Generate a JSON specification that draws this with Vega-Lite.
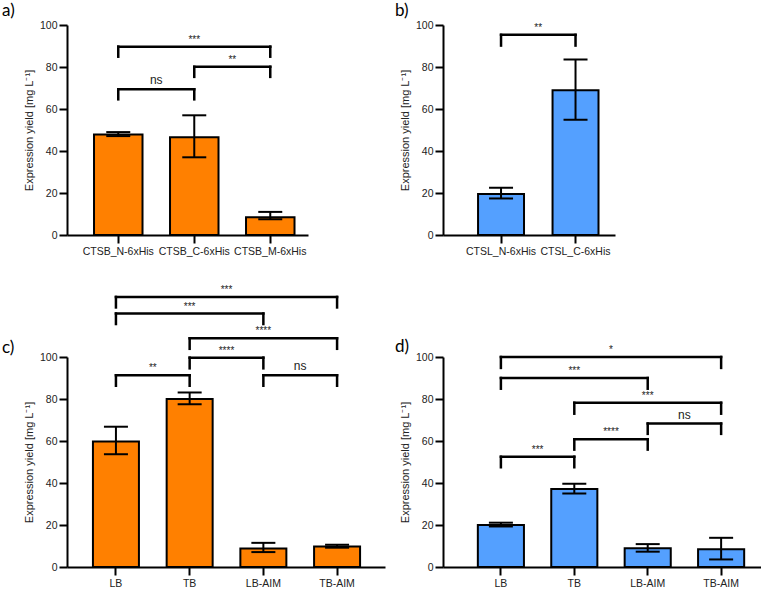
{
  "$schema": "https://vega.github.io/schema/vega-lite/v6.json",
  "autosize": {"type": "pad"},
  "padding": {"left": 2, "top": 2, "right": 0, "bottom": 0},
  "background": "white",
  "columns": 2,
  "spacing": {"row": 122, "column": 48},
  "bounds": "flush",
  "align": "all",
  "datasets": {
    "aBars": [
      {"g": "CTSB_N-6xHis", "v": 47.9, "lo": 47.1, "hi": 49.0},
      {"g": "CTSB_C-6xHis", "v": 46.5, "lo": 37.0, "hi": 57.0},
      {"g": "CTSB_M-6xHis", "v": 8.4, "lo": 7.5, "hi": 11.0}
    ],
    "aBr": [
      {"from": "CTSB_N-6xHis", "to": "CTSB_M-6xHis", "y": 89.7, "low": 84.9, "label": "***", "over": "CTSB_C-6xHis"},
      {"from": "CTSB_C-6xHis", "to": "CTSB_M-6xHis", "y": 80.1, "low": 75.3, "label": "**", "after": "CTSB_C-6xHis"},
      {"from": "CTSB_N-6xHis", "to": "CTSB_C-6xHis", "y": 69.4, "low": 64.6, "label": "ns", "after": "CTSB_N-6xHis"}
    ],
    "bBars": [
      {"g": "CTSL_N-6xHis", "v": 19.5, "lo": 17.4, "hi": 22.5},
      {"g": "CTSL_C-6xHis", "v": 68.9, "lo": 54.9, "hi": 83.6}
    ],
    "bBr": [
      {"from": "CTSL_N-6xHis", "to": "CTSL_C-6xHis", "y": 95.3, "low": 90.2, "label": "**", "after": "CTSL_N-6xHis"}
    ],
    "cBars": [
      {"g": "LB", "v": 59.8, "lo": 53.7, "hi": 66.8},
      {"g": "TB", "v": 80.0, "lo": 77.5, "hi": 83.1},
      {"g": "LB-AIM", "v": 8.8, "lo": 7.1, "hi": 11.5},
      {"g": "TB-AIM", "v": 9.8, "lo": 9.2, "hi": 10.6}
    ],
    "cBr": [
      {"from": "LB", "to": "TB-AIM", "y": 128.6, "low": 123.6, "label": "***", "after": "TB"},
      {"from": "LB", "to": "LB-AIM", "y": 120.7, "low": 115.7, "label": "***", "over": "TB"},
      {"from": "TB", "to": "TB-AIM", "y": 108.9, "low": 103.9, "label": "****", "over": "LB-AIM"},
      {"from": "TB", "to": "LB-AIM", "y": 99.7, "low": 94.6, "label": "****", "after": "TB"},
      {"from": "LB", "to": "TB", "y": 91.3, "low": 86.3, "label": "**", "after": "LB"},
      {"from": "LB-AIM", "to": "TB-AIM", "y": 91.3, "low": 86.3, "label": "ns", "after": "LB-AIM"}
    ],
    "dBars": [
      {"g": "LB", "v": 20.0, "lo": 19.3, "hi": 21.1},
      {"g": "TB", "v": 37.1, "lo": 35.0, "hi": 39.6},
      {"g": "LB-AIM", "v": 8.9, "lo": 7.3, "hi": 10.9},
      {"g": "TB-AIM", "v": 8.4, "lo": 3.6, "hi": 13.9}
    ],
    "dBr": [
      {"from": "LB", "to": "TB-AIM", "y": 100.0, "low": 94.8, "label": "*", "after": "TB"},
      {"from": "LB", "to": "LB-AIM", "y": 90.0, "low": 84.9, "label": "***", "over": "TB"},
      {"from": "TB", "to": "TB-AIM", "y": 78.2, "low": 73.0, "label": "***", "over": "LB-AIM"},
      {"from": "LB-AIM", "to": "TB-AIM", "y": 68.3, "low": 63.4, "label": "ns", "after": "LB-AIM"},
      {"from": "TB", "to": "LB-AIM", "y": 60.8, "low": 55.9, "label": "****", "after": "TB"},
      {"from": "LB", "to": "TB", "y": 52.5, "low": 47.5, "label": "***", "after": "LB"}
    ]
  },
  "concat": [
    {
      "width": 241, "height": 210,
      "title": {"text": "a)", "dx": -65, "offset": 0},
      "layer": [
        {"data": {"name": "aBars"}, "mark": {"type": "bar", "fill": "#FF8000", "stroke": "black", "strokeWidth": 2},
         "encoding": {
           "x": {"field": "g", "type": "nominal", "sort": null, "title": null, "scale": {"domain": ["CTSB_N-6xHis", "CTSB_C-6xHis", "CTSB_M-6xHis"], "paddingInner": 0.362, "paddingOuter": 0.2665, "align": 0.667}, "axis": {"title": null, "labelAngle": 0, "labelOverlap": false}},
           "y": {"field": "v", "type": "quantitative", "title": "Expression yield [mg L⁻¹]", "scale": {"domain": [0, 100], "nice": false}, "axis": {"title": "Expression yield [mg L⁻¹]", "values": [0, 20, 40, 60, 80, 100]}}}},
        {"data": {"name": "aBars"}, "mark": {"type": "rule", "strokeWidth": 2, "color": "black"},
         "encoding": {"x": {"field": "g", "type": "nominal", "bandPosition": 0.5}, "y": {"field": "lo", "type": "quantitative"}, "y2": {"field": "hi"}}},
        {"data": {"name": "aBars"}, "mark": {"type": "tick", "size": 24, "thickness": 2, "color": "black", "opacity": 1},
         "encoding": {"x": {"field": "g", "type": "nominal", "bandPosition": 0.5}, "y": {"field": "hi", "type": "quantitative"}}},
        {"data": {"name": "aBars"}, "mark": {"type": "tick", "size": 24, "thickness": 2, "color": "black", "opacity": 1},
         "encoding": {"x": {"field": "g", "type": "nominal", "bandPosition": 0.5}, "y": {"field": "lo", "type": "quantitative"}}},
        {"data": {"name": "aBr"}, "mark": {"type": "rule", "strokeWidth": 2.5, "color": "black", "strokeCap": "square"},
         "encoding": {"x": {"field": "from", "type": "nominal", "bandPosition": 0.5}, "x2": {"field": "to", "bandPosition": 0.5}, "y": {"field": "y", "type": "quantitative"}}},
        {"data": {"name": "aBr"}, "mark": {"type": "rule", "strokeWidth": 2.5, "color": "black", "strokeCap": "square"},
         "encoding": {"x": {"field": "from", "type": "nominal", "bandPosition": 0.5}, "y": {"field": "y", "type": "quantitative"}, "y2": {"field": "low"}}},
        {"data": {"name": "aBr"}, "mark": {"type": "rule", "strokeWidth": 2.5, "color": "black", "strokeCap": "square"},
         "encoding": {"x": {"field": "to", "type": "nominal", "bandPosition": 0.5}, "y": {"field": "y", "type": "quantitative"}, "y2": {"field": "low"}}},
        {"data": {"name": "aBr"}, "transform": [{"filter": "datum.over"}], "mark": {"type": "text", "baseline": "bottom", "dy": -2, "font": "Liberation Sans", "color": "#222"},
         "encoding": {"x": {"field": "over", "type": "nominal", "bandPosition": 0.5}, "y": {"field": "y", "type": "quantitative"}, "text": {"field": "label"}, "size": {"condition": {"test": "datum.label === 'ns'", "value": 12}, "value": 10}}},
        {"data": {"name": "aBr"}, "transform": [{"filter": "datum.after"}], "mark": {"type": "text", "baseline": "bottom", "dy": -2, "font": "Liberation Sans", "color": "#222"},
         "encoding": {"x": {"field": "after", "type": "nominal", "bandPosition": 1.284}, "y": {"field": "y", "type": "quantitative"}, "text": {"field": "label"}, "size": {"condition": {"test": "datum.label === 'ns'", "value": 12}, "value": 10}}}
      ]
    },
    {
      "width": 172, "height": 210,
      "title": {"text": "b)", "dx": -48, "offset": 0},
      "layer": [
        {"data": {"name": "bBars"}, "mark": {"type": "bar", "fill": "#54A0FF", "stroke": "black", "strokeWidth": 2},
         "encoding": {
           "x": {"field": "g", "type": "nominal", "sort": null, "title": null, "scale": {"domain": ["CTSL_N-6xHis", "CTSL_C-6xHis"], "paddingInner": 0.383, "paddingOuter": 0.346, "align": 0.68}, "axis": {"title": null, "labelAngle": 0, "labelOverlap": false}},
           "y": {"field": "v", "type": "quantitative", "title": "Expression yield [mg L⁻¹]", "scale": {"domain": [0, 100], "nice": false}, "axis": {"title": "Expression yield [mg L⁻¹]", "values": [0, 20, 40, 60, 80, 100]}}}},
        {"data": {"name": "bBars"}, "mark": {"type": "rule", "strokeWidth": 2, "color": "black"},
         "encoding": {"x": {"field": "g", "type": "nominal", "bandPosition": 0.5}, "y": {"field": "lo", "type": "quantitative"}, "y2": {"field": "hi"}}},
        {"data": {"name": "bBars"}, "mark": {"type": "tick", "size": 24, "thickness": 2, "color": "black", "opacity": 1},
         "encoding": {"x": {"field": "g", "type": "nominal", "bandPosition": 0.5}, "y": {"field": "hi", "type": "quantitative"}}},
        {"data": {"name": "bBars"}, "mark": {"type": "tick", "size": 24, "thickness": 2, "color": "black", "opacity": 1},
         "encoding": {"x": {"field": "g", "type": "nominal", "bandPosition": 0.5}, "y": {"field": "lo", "type": "quantitative"}}},
        {"data": {"name": "bBr"}, "mark": {"type": "rule", "strokeWidth": 2.5, "color": "black", "strokeCap": "square"},
         "encoding": {"x": {"field": "from", "type": "nominal", "bandPosition": 0.5}, "x2": {"field": "to", "bandPosition": 0.5}, "y": {"field": "y", "type": "quantitative"}}},
        {"data": {"name": "bBr"}, "mark": {"type": "rule", "strokeWidth": 2.5, "color": "black", "strokeCap": "square"},
         "encoding": {"x": {"field": "from", "type": "nominal", "bandPosition": 0.5}, "y": {"field": "y", "type": "quantitative"}, "y2": {"field": "low"}}},
        {"data": {"name": "bBr"}, "mark": {"type": "rule", "strokeWidth": 2.5, "color": "black", "strokeCap": "square"},
         "encoding": {"x": {"field": "to", "type": "nominal", "bandPosition": 0.5}, "y": {"field": "y", "type": "quantitative"}, "y2": {"field": "low"}}},
        {"data": {"name": "bBr"}, "transform": [{"filter": "datum.after"}], "mark": {"type": "text", "baseline": "bottom", "dy": -2, "font": "Liberation Sans", "color": "#222"},
         "encoding": {"x": {"field": "after", "type": "nominal", "bandPosition": 1.31}, "y": {"field": "y", "type": "quantitative"}, "text": {"field": "label"}, "size": {"condition": {"test": "datum.label === 'ns'", "value": 12}, "value": 10}}}
      ]
    },
    {
      "width": 318, "height": 210,
      "title": {"text": "c)", "dx": -65, "offset": -72},
      "layer": [
        {"data": {"name": "cBars"}, "mark": {"type": "bar", "fill": "#FF8000", "stroke": "black", "strokeWidth": 2},
         "encoding": {
           "x": {"field": "g", "type": "nominal", "sort": null, "title": null, "scale": {"domain": ["LB", "TB", "LB-AIM", "TB-AIM"], "paddingInner": 0.376, "paddingOuter": 0.345, "align": 0.51}, "axis": {"title": null, "labelAngle": 0, "labelOverlap": false}},
           "y": {"field": "v", "type": "quantitative", "title": "Expression yield [mg L⁻¹]", "scale": {"domain": [0, 100], "nice": false}, "axis": {"title": "Expression yield [mg L⁻¹]", "values": [0, 20, 40, 60, 80, 100]}}}},
        {"data": {"name": "cBars"}, "mark": {"type": "rule", "strokeWidth": 2, "color": "black"},
         "encoding": {"x": {"field": "g", "type": "nominal", "bandPosition": 0.5}, "y": {"field": "lo", "type": "quantitative"}, "y2": {"field": "hi"}}},
        {"data": {"name": "cBars"}, "mark": {"type": "tick", "size": 24, "thickness": 2, "color": "black", "opacity": 1},
         "encoding": {"x": {"field": "g", "type": "nominal", "bandPosition": 0.5}, "y": {"field": "hi", "type": "quantitative"}}},
        {"data": {"name": "cBars"}, "mark": {"type": "tick", "size": 24, "thickness": 2, "color": "black", "opacity": 1},
         "encoding": {"x": {"field": "g", "type": "nominal", "bandPosition": 0.5}, "y": {"field": "lo", "type": "quantitative"}}},
        {"data": {"name": "cBr"}, "mark": {"type": "rule", "strokeWidth": 2.5, "color": "black", "strokeCap": "square"},
         "encoding": {"x": {"field": "from", "type": "nominal", "bandPosition": 0.5}, "x2": {"field": "to", "bandPosition": 0.5}, "y": {"field": "y", "type": "quantitative"}}},
        {"data": {"name": "cBr"}, "mark": {"type": "rule", "strokeWidth": 2.5, "color": "black", "strokeCap": "square"},
         "encoding": {"x": {"field": "from", "type": "nominal", "bandPosition": 0.5}, "y": {"field": "y", "type": "quantitative"}, "y2": {"field": "low"}}},
        {"data": {"name": "cBr"}, "mark": {"type": "rule", "strokeWidth": 2.5, "color": "black", "strokeCap": "square"},
         "encoding": {"x": {"field": "to", "type": "nominal", "bandPosition": 0.5}, "y": {"field": "y", "type": "quantitative"}, "y2": {"field": "low"}}},
        {"data": {"name": "cBr"}, "transform": [{"filter": "datum.over"}], "mark": {"type": "text", "baseline": "bottom", "dy": -2, "font": "Liberation Sans", "color": "#222"},
         "encoding": {"x": {"field": "over", "type": "nominal", "bandPosition": 0.5}, "y": {"field": "y", "type": "quantitative"}, "text": {"field": "label"}, "size": {"condition": {"test": "datum.label === 'ns'", "value": 12}, "value": 10}}},
        {"data": {"name": "cBr"}, "transform": [{"filter": "datum.after"}], "mark": {"type": "text", "baseline": "bottom", "dy": -2, "font": "Liberation Sans", "color": "#222"},
         "encoding": {"x": {"field": "after", "type": "nominal", "bandPosition": 1.301}, "y": {"field": "y", "type": "quantitative"}, "text": {"field": "label"}, "size": {"condition": {"test": "datum.label === 'ns'", "value": 12}, "value": 10}}}
      ]
    },
    {
      "width": 328, "height": 210,
      "title": {"text": "d)", "dx": -48, "offset": -11},
      "layer": [
        {"data": {"name": "dBars"}, "mark": {"type": "bar", "fill": "#54A0FF", "stroke": "black", "strokeWidth": 2},
         "encoding": {
           "x": {"field": "g", "type": "nominal", "sort": null, "title": null, "scale": {"domain": ["LB", "TB", "LB-AIM", "TB-AIM"], "paddingInner": 0.372, "paddingOuter": 0.42, "align": 0.565}, "axis": {"title": null, "labelAngle": 0, "labelOverlap": false}},
           "y": {"field": "v", "type": "quantitative", "title": "Expression yield [mg L⁻¹]", "scale": {"domain": [0, 100], "nice": false}, "axis": {"title": "Expression yield [mg L⁻¹]", "values": [0, 20, 40, 60, 80, 100]}}}},
        {"data": {"name": "dBars"}, "mark": {"type": "rule", "strokeWidth": 2, "color": "black"},
         "encoding": {"x": {"field": "g", "type": "nominal", "bandPosition": 0.5}, "y": {"field": "lo", "type": "quantitative"}, "y2": {"field": "hi"}}},
        {"data": {"name": "dBars"}, "mark": {"type": "tick", "size": 24, "thickness": 2, "color": "black", "opacity": 1},
         "encoding": {"x": {"field": "g", "type": "nominal", "bandPosition": 0.5}, "y": {"field": "hi", "type": "quantitative"}}},
        {"data": {"name": "dBars"}, "mark": {"type": "tick", "size": 24, "thickness": 2, "color": "black", "opacity": 1},
         "encoding": {"x": {"field": "g", "type": "nominal", "bandPosition": 0.5}, "y": {"field": "lo", "type": "quantitative"}}},
        {"data": {"name": "dBr"}, "mark": {"type": "rule", "strokeWidth": 2.5, "color": "black", "strokeCap": "square"},
         "encoding": {"x": {"field": "from", "type": "nominal", "bandPosition": 0.5}, "x2": {"field": "to", "bandPosition": 0.5}, "y": {"field": "y", "type": "quantitative"}}},
        {"data": {"name": "dBr"}, "mark": {"type": "rule", "strokeWidth": 2.5, "color": "black", "strokeCap": "square"},
         "encoding": {"x": {"field": "from", "type": "nominal", "bandPosition": 0.5}, "y": {"field": "y", "type": "quantitative"}, "y2": {"field": "low"}}},
        {"data": {"name": "dBr"}, "mark": {"type": "rule", "strokeWidth": 2.5, "color": "black", "strokeCap": "square"},
         "encoding": {"x": {"field": "to", "type": "nominal", "bandPosition": 0.5}, "y": {"field": "y", "type": "quantitative"}, "y2": {"field": "low"}}},
        {"data": {"name": "dBr"}, "transform": [{"filter": "datum.over"}], "mark": {"type": "text", "baseline": "bottom", "dy": -2, "font": "Liberation Sans", "color": "#222"},
         "encoding": {"x": {"field": "over", "type": "nominal", "bandPosition": 0.5}, "y": {"field": "y", "type": "quantitative"}, "text": {"field": "label"}, "size": {"condition": {"test": "datum.label === 'ns'", "value": 12}, "value": 10}}},
        {"data": {"name": "dBr"}, "transform": [{"filter": "datum.after"}], "mark": {"type": "text", "baseline": "bottom", "dy": -2, "font": "Liberation Sans", "color": "#222"},
         "encoding": {"x": {"field": "after", "type": "nominal", "bandPosition": 1.296}, "y": {"field": "y", "type": "quantitative"}, "text": {"field": "label"}, "size": {"condition": {"test": "datum.label === 'ns'", "value": 12}, "value": 10}}}
      ]
    }
  ],
  "config": {
    "view": {"stroke": null},
    "axis": {
      "grid": false, "domainColor": "black", "domainWidth": 2, "tickColor": "black", "tickWidth": 2, "tickSize": 8,
      "labelFont": "Liberation Sans", "labelFontSize": 10.5, "labelColor": "#222", "labelPadding": 2,
      "titleFont": "Liberation Sans", "titleFontSize": 11, "titleFontWeight": "normal", "titleColor": "#222", "titlePadding": 5
    },
    "axisX": {"labelPadding": 3},
    "title": {"font": "Lato", "fontSize": 17, "fontWeight": "normal", "anchor": "start", "frame": "group", "color": "black"}
  }
}
